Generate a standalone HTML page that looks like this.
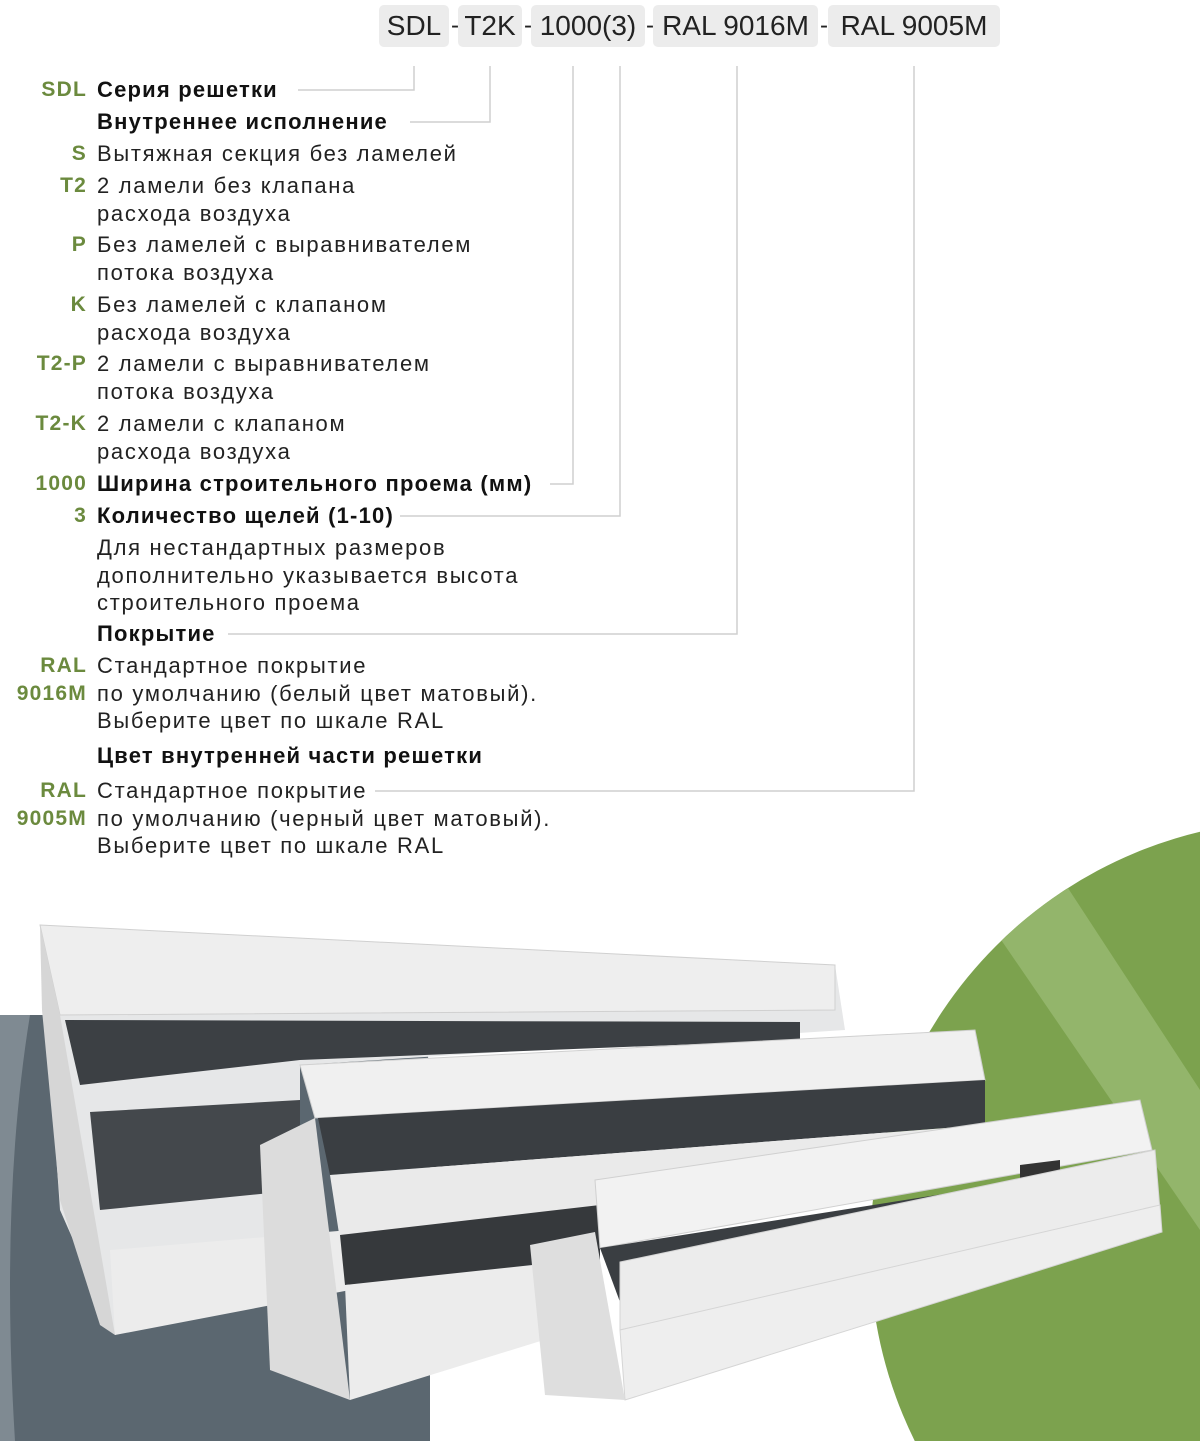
<!DOCTYPE html>
<html><head><meta charset="utf-8"><style>
html,body{margin:0;width:1200px;height:1441px;overflow:hidden;}
body{position:relative;background:#fff;font-family:"Liberation Sans","DejaVu Sans",sans-serif;}
.box{position:absolute;top:5px;height:42px;background:#ececec;border-radius:5px;font-size:28px;line-height:42px;color:#222;text-align:center;white-space:nowrap;}
.dash{position:absolute;top:5px;font-size:24px;line-height:42px;color:#222;}
.l{position:absolute;right:1113px;font-size:21px;font-weight:bold;color:#6b8a3e;text-align:right;white-space:nowrap;line-height:27.5px;letter-spacing:1.2px;}
.t{position:absolute;left:97px;font-size:22px;color:#222;white-space:nowrap;line-height:27.5px;letter-spacing:1.7px;}
.b{font-weight:bold;color:#111;letter-spacing:1.2px;}
svg{position:absolute;left:0;top:0;}
</style></head><body>
<svg width="1200" height="1441">
<defs><clipPath id="gc"><circle cx="1300" cy="1250" r="430"/></clipPath></defs>
<circle cx="1300" cy="1250" r="430" fill="#7ca24e"/>
<path d="M960,880 L1200,1230 L1200,1090 L1030,830 Z" fill="#93b56b" clip-path="url(#gc)"/>
<path d="M0,1015 L380,1015 Q430,1015 430,1080 L430,1441 L0,1441 Z" fill="#5b6770"/>
<path d="M0,1015 L30,1015 Q0,1200 15,1441 L0,1441 Z" fill="#7f8a92"/>
<g stroke="#cfcfcf" stroke-width="1.5" fill="none">
<path d="M414,66 V90 H298"/>
<path d="M490,66 V122 H410"/>
<path d="M573,66 V484 H550"/>
<path d="M620,66 V516 H400"/>
<path d="M737,66 V634 H228"/>
<path d="M914,66 V791 H375"/>
</g>
<!-- panel 1 -->
<polygon points="40,925 835,965 845,1030 300,1065 300,1250 115,1335 60,1210" fill="#e6e7e8"/>
<polygon points="40,925 835,965 835,1010 60,1015" fill="#eeeeee" stroke="#d0d0d0"/>
<polygon points="65,1020 800,1022 800,1040 300,1060 80,1085" fill="#3c4044"/>
<polygon points="90,1112 300,1100 300,1190 100,1210" fill="#44484c"/>
<polygon points="110,1250 350,1230 350,1290 115,1335" fill="#ececec"/>
<polygon points="40,925 60,1015 115,1335 100,1325 60,1200 42,1010" fill="#d6d6d6"/>
<!-- panel 2 -->
<polygon points="300,1065 975,1030 985,1080 315,1118" fill="#f0f0f0" stroke="#d0d0d0"/>
<polygon points="318,1118 985,1080 985,1125 330,1175" fill="#3a3e42"/>
<polygon points="330,1175 985,1125 990,1160 340,1240" fill="#eaeaea"/>
<polygon points="340,1235 600,1205 600,1262 345,1285" fill="#36393c"/>
<polygon points="345,1285 560,1262 560,1335 350,1400" fill="#ececec"/>
<polygon points="260,1145 315,1118 350,1400 270,1370" fill="#dcdcdc"/>
<!-- panel 3 -->
<polygon points="595,1180 1140,1100 1152,1150 600,1248" fill="#f2f2f2" stroke="#d0d0d0"/>
<polygon points="600,1248 1000,1185 1000,1262 620,1302" fill="#3a3e42"/>
<polygon points="1020,1165 1060,1160 1060,1200 1020,1205" fill="#333"/>
<polygon points="620,1262 1155,1150 1160,1210 620,1330" fill="#ececec" stroke="#d5d5d5"/>
<polygon points="620,1330 1160,1205 1162,1232 625,1400" fill="#eeeeee" stroke="#d5d5d5"/>
<polygon points="530,1245 595,1232 625,1400 545,1395" fill="#dedede"/>
</svg>
<div class="box" style="left:379px;width:70px">SDL</div><div class="dash" style="left:451px">-</div>
<div class="box" style="left:458px;width:64px">T2K</div><div class="dash" style="left:524px">-</div>
<div class="box" style="left:531px;width:114px">1000(3)</div><div class="dash" style="left:646px">-</div>
<div class="box" style="left:653px;width:165px">RAL 9016M</div><div class="dash" style="left:820px">-</div>
<div class="box" style="left:828px;width:172px">RAL 9005M</div>

<div class="l" style="top:76px">SDL</div><div class="t b" style="top:76px">Серия решетки</div>
<div class="t b" style="top:108px">Внутреннее исполнение</div>
<div class="l" style="top:140px">S</div><div class="t" style="top:140px">Вытяжная секция без ламелей</div>
<div class="l" style="top:172px">T2</div><div class="t" style="top:172px">2 ламели без клапана<br>расхода воздуха</div>
<div class="l" style="top:231px">P</div><div class="t" style="top:231px">Без ламелей с выравнивателем<br>потока воздуха</div>
<div class="l" style="top:291px">K</div><div class="t" style="top:291px">Без ламелей с клапаном<br>расхода воздуха</div>
<div class="l" style="top:350px">T2-P</div><div class="t" style="top:350px">2 ламели с выравнивателем<br>потока воздуха</div>
<div class="l" style="top:410px">T2-K</div><div class="t" style="top:410px">2 ламели с клапаном<br>расхода воздуха</div>
<div class="l" style="top:470px">1000</div><div class="t b" style="top:470px">Ширина строительного проема (мм)</div>
<div class="l" style="top:502px">3</div><div class="t b" style="top:502px">Количество щелей (1-10)</div>
<div class="t" style="top:534px">Для нестандартных размеров<br>дополнительно указывается высота<br>строительного проема</div>
<div class="t b" style="top:620px">Покрытие</div>
<div class="l" style="top:652px">RAL<br>9016M</div><div class="t" style="top:652px">Стандартное покрытие<br>по умолчанию (белый цвет матовый).<br>Выберите цвет по шкале RAL</div>
<div class="t b" style="top:742px">Цвет внутренней части решетки</div>
<div class="l" style="top:777px">RAL<br>9005M</div><div class="t" style="top:777px">Стандартное покрытие<br>по умолчанию (черный цвет матовый).<br>Выберите цвет по шкале RAL</div>
</body></html>
